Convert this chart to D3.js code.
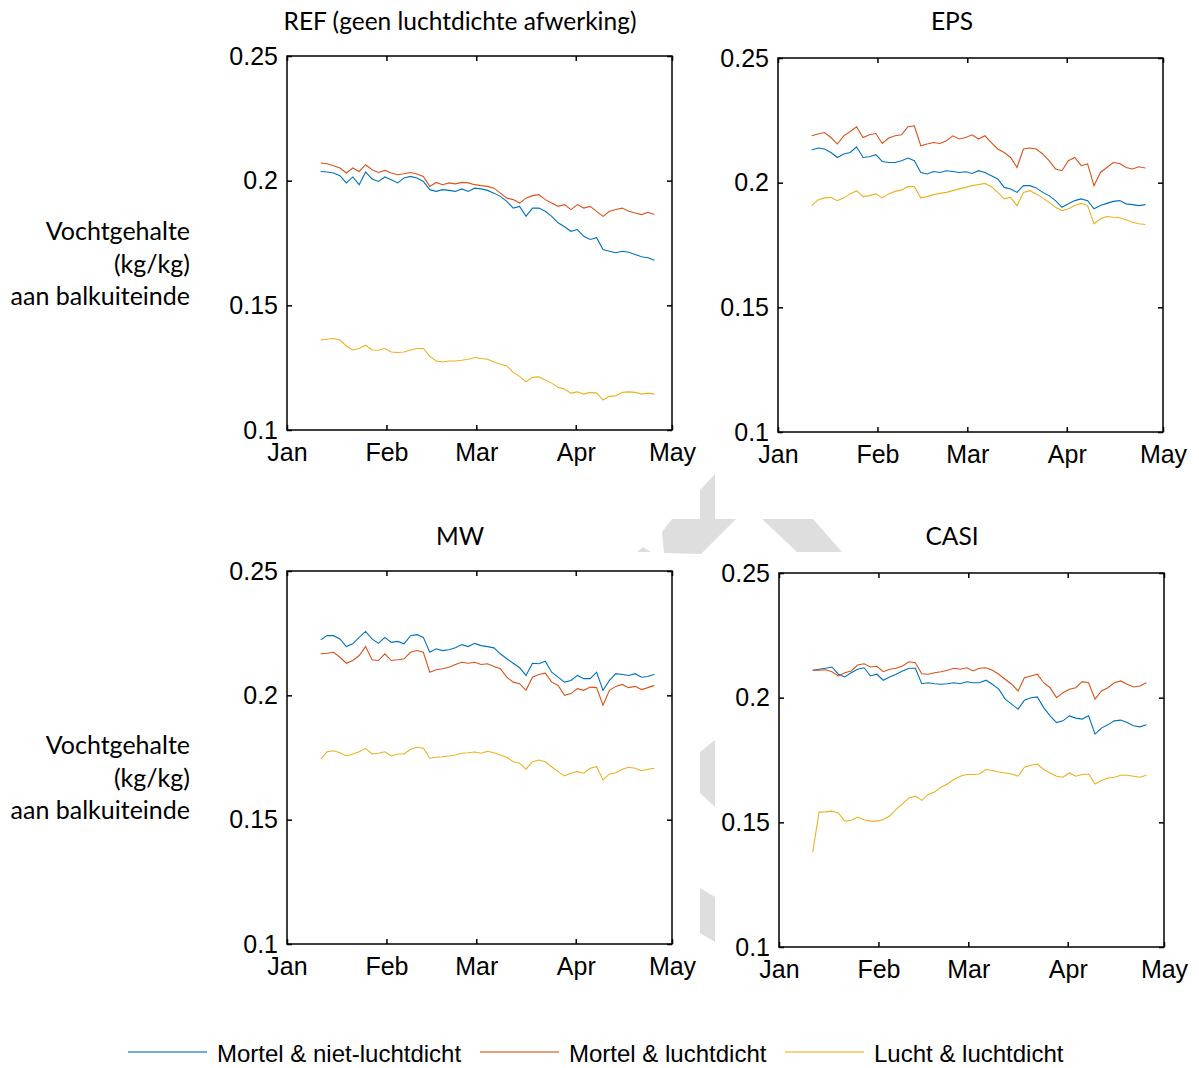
<!DOCTYPE html>
<html>
<head>
<meta charset="utf-8">
<script src="https://cdn.jsdelivr.net/npm/d3@7"></script>
<style>
  body { margin: 0; background: #fff; }
  svg { display: block; }
</style>
</head>
<body>
<div id="chart"></div>
<script>
// Series sampled every 2 days, starting 10.5 days after Jan 1 (2015)
const dayStart = 10.5, dayStep = 2;

const seriesNames = ["Mortel & niet-luchtdicht", "Mortel & luchtdicht", "Lucht & luchtdicht"];
const seriesColors = ["#0072BD", "#D95319", "#EDB120"];
const monthTicks = ["Jan", "Feb", "Mar", "Apr", "May"];
const yTicks = [0.1, 0.15, 0.2, 0.25];
const yLabelLines = ["Vochtgehalte", "(kg/kg)", "aan balkuiteinde"];

// REF
const refBlue = [.2037,.2035,.2031,.2020,.1991,.2015,.1984,.2035,.2007,.1997,.2015,.2004,.1991,.2011,.2017,.2011,.1997,.1964,.1957,.1964,.1961,.1957,.1967,.1957,.1970,.1967,.1961,.1950,.1937,.1917,.1890,.1897,.1857,.1890,.1890,.1877,.1857,.1831,.1815,.1797,.1804,.1777,.1764,.1771,.1724,.1717,.1711,.1717,.1713,.1704,.1695,.1691,.1681];
const refRed = [.2071,.2068,.2060,.2051,.2031,.2051,.2037,.2064,.2044,.2033,.2041,.2031,.2024,.2028,.2033,.2027,.2017,.1977,.1993,.1984,.1991,.1987,.1993,.1991,.1984,.1980,.1977,.1970,.1950,.1930,.1924,.1910,.1930,.1940,.1944,.1924,.1910,.1897,.1904,.1884,.1904,.1890,.1897,.1877,.1857,.1877,.1884,.1890,.1877,.1870,.1864,.1873,.1864];
const refYellow = [.1361,.1364,.1367,.1361,.1337,.1321,.1327,.1340,.1321,.1320,.1327,.1313,.1311,.1313,.1321,.1327,.1327,.1295,.1277,.1273,.1277,.1277,.1280,.1284,.1291,.1287,.1284,.1273,.1264,.1257,.1231,.1215,.1193,.1211,.1213,.1201,.1188,.1171,.1164,.1148,.1153,.1144,.1151,.1148,.1120,.1135,.1137,.1151,.1153,.1151,.1144,.1148,.1144];

// EPS
const epsBlue = [.2131,.2139,.2135,.2121,.2101,.2115,.2121,.2144,.2101,.2104,.2112,.2085,.2081,.2081,.2088,.2099,.2088,.2041,.2035,.2045,.2041,.2048,.2045,.2041,.2044,.2037,.2048,.2041,.2028,.2015,.1981,.1975,.1961,.1988,.1988,.1979,.1961,.1948,.1928,.1901,.1915,.1928,.1935,.1928,.1895,.1908,.1917,.1925,.1928,.1915,.1912,.1908,.1912];
const epsRed = [.2188,.2195,.2201,.2181,.2155,.2188,.2205,.2224,.2181,.2192,.2197,.2157,.2179,.2188,.2192,.2224,.2228,.2148,.2155,.2161,.2157,.2168,.2188,.2175,.2181,.2192,.2175,.2188,.2161,.2135,.2121,.2101,.2061,.2135,.2139,.2135,.2115,.2088,.2055,.2048,.2088,.2101,.2068,.2075,.1988,.2041,.2061,.2081,.2077,.2061,.2055,.2064,.2059];
const epsYellow = [.1908,.1931,.1939,.1941,.1928,.1939,.1955,.1968,.1944,.1948,.1955,.1939,.1955,.1965,.1971,.1984,.1984,.1939,.1944,.1952,.1957,.1961,.1968,.1975,.1981,.1988,.1992,.1997,.1984,.1961,.1935,.1941,.1908,.1961,.1968,.1955,.1939,.1921,.1901,.1888,.1895,.1908,.1917,.1908,.1835,.1855,.1864,.1861,.1859,.1851,.1841,.1835,.1832];

// MW
const mwBlue = [.2223,.2240,.2240,.2227,.2196,.2207,.2233,.2257,.2227,.2209,.2233,.2213,.2217,.2207,.2240,.2244,.2233,.2173,.2187,.2180,.2183,.2191,.2204,.2196,.2209,.2200,.2196,.2191,.2167,.2147,.2129,.2111,.2080,.2129,.2127,.2137,.2093,.2073,.2053,.2060,.2080,.2067,.2067,.2093,.2020,.2060,.2087,.2084,.2080,.2087,.2073,.2076,.2085];
const mwRed = [.2167,.2169,.2173,.2153,.2129,.2140,.2160,.2196,.2143,.2140,.2167,.2140,.2143,.2147,.2173,.2180,.2173,.2093,.2103,.2107,.2113,.2124,.2133,.2129,.2133,.2124,.2127,.2116,.2107,.2073,.2053,.2047,.2020,.2073,.2084,.2089,.2053,.2040,.2000,.2007,.2027,.2020,.2033,.2031,.1960,.2020,.2036,.2044,.2031,.2036,.2023,.2031,.2040];
const mwYellow = [.1743,.1773,.1777,.1769,.1756,.1764,.1773,.1787,.1764,.1767,.1773,.1756,.1764,.1764,.1783,.1791,.1787,.1747,.1751,.1753,.1756,.1760,.1767,.1769,.1772,.1767,.1775,.1769,.1760,.1751,.1733,.1727,.1703,.1733,.1740,.1733,.1713,.1693,.1676,.1687,.1693,.1687,.1707,.1713,.1660,.1684,.1689,.1703,.1711,.1707,.1697,.1703,.1707];

// CASI
const casiBlue = [.2110,.2114,.2118,.2123,.2094,.2083,.2100,.2114,.2120,.2087,.2094,.2070,.2083,.2094,.2107,.2118,.2118,.2056,.2060,.2056,.2054,.2056,.2060,.2056,.2064,.2060,.2060,.2070,.2054,.2034,.1994,.1974,.1954,.1990,.2000,.2003,.1960,.1927,.1900,.1907,.1927,.1918,.1914,.1927,.1854,.1878,.1891,.1907,.1910,.1900,.1887,.1883,.1891];
const casiRed = [.2110,.2110,.2112,.2104,.2087,.2100,.2107,.2131,.2136,.2123,.2126,.2104,.2114,.2118,.2127,.2144,.2140,.2096,.2094,.2100,.2104,.2110,.2118,.2114,.2120,.2107,.2118,.2120,.2110,.2094,.2074,.2054,.2027,.2080,.2087,.2094,.2060,.2040,.2000,.2020,.2034,.2040,.2064,.2060,.1994,.2027,.2040,.2060,.2067,.2054,.2043,.2047,.2060];
const casiYellow = [.1380,.1541,.1542,.1545,.1538,.1505,.1508,.1521,.1510,.1505,.1505,.1510,.1525,.1552,.1574,.1598,.1605,.1588,.1612,.1622,.1641,.1654,.1672,.1685,.1692,.1692,.1694,.1712,.1708,.1702,.1698,.1694,.1685,.1721,.1729,.1734,.1712,.1698,.1685,.1681,.1698,.1685,.1692,.1694,.1654,.1668,.1678,.1681,.1689,.1689,.1685,.1681,.1689];

// Pixel frames of the four axes boxes
const panels = [
  { title: "REF (geen luchtdichte afwerking)", x0: 287, y0: 56, x1: 672, y1: 430, tx: 460, ty: 30, data: [refBlue, refRed, refYellow] },
  { title: "EPS", x0: 778, y0: 58, x1: 1163, y1: 432, tx: 952, ty: 30, data: [epsBlue, epsRed, epsYellow] },
  { title: "MW", x0: 287, y0: 571, x1: 672, y1: 944, tx: 460, ty: 545, data: [mwBlue, mwRed, mwYellow] },
  { title: "CASI", x0: 779, y0: 573, x1: 1164, y1: 947, tx: 952, ty: 545, data: [casiBlue, casiRed, casiYellow] }
];

const width = 1199, height = 1068;
const tickFont = "'Liberation Sans', Arial, sans-serif";
const labelFont = "Lato, 'Open Sans', sans-serif";

const svg = d3.select("#chart").append("svg")
  .attr("width", width)
  .attr("height", height)
  .style("background", "#fff");

// faint watermark shapes behind the plots
const wm = svg.append("g").attr("fill", "#dedede");
[
  [[700,490],[715,474],[715,519],[736,519],[701,554],[664,553],[662,532],[672,519],[700,519]],
  [[762,519],[813,519],[842,552],[797,552]],
  [[637,552],[643,547],[651,552]],
  [[700,752],[715,740],[715,807],[700,793]],
  [[700,888],[715,897],[715,942],[700,933]]
].forEach(p => wm.append("path").attr("d", "M" + p.join("L") + "Z"));

const t0 = new Date(2015, 0, 1), t1 = new Date(2015, 4, 1);
const dayToDate = d => new Date(t0.getTime() + d * 864e5);

panels.forEach(p => {
  const x = d3.scaleTime().domain([t0, t1]).range([p.x0, p.x1]);
  const y = d3.scaleLinear().domain([0.1, 0.25]).range([p.y1, p.y0]);
  const monthDates = monthTicks.map((m, i) => new Date(2015, i, 1));

  const g = svg.append("g");

  g.append("rect")
    .attr("x", p.x0).attr("y", p.y0)
    .attr("width", p.x1 - p.x0).attr("height", p.y1 - p.y0)
    .attr("fill", "#fff");

  // series
  const line = d3.line()
    .x((v, i) => x(dayToDate(dayStart + i * dayStep)))
    .y(v => y(v));

  p.data.forEach((vals, k) => {
    g.append("path")
      .datum(vals)
      .attr("fill", "none")
      .attr("stroke", seriesColors[k])
      .attr("stroke-width", 1.1)
      .attr("stroke-linejoin", "miter")
      .attr("d", line);
  });

  // axes, ticks inside
  const fmtY = d => String(d);
  const left = g.append("g").attr("transform", `translate(${p.x0},0)`)
    .call(d3.axisLeft(y).tickValues(yTicks).tickFormat(fmtY).tickSize(-5).tickPadding(9));
  g.append("g").attr("transform", `translate(${p.x1},0)`)
    .call(d3.axisRight(y).tickValues(yTicks).tickFormat("").tickSize(-5));
  const bottom = g.append("g").attr("transform", `translate(0,${p.y1})`)
    .call(d3.axisBottom(x).tickValues(monthDates).tickFormat((d, i) => monthTicks[i]).tickSize(-5).tickPadding(13));
  g.append("g").attr("transform", `translate(0,${p.y0})`)
    .call(d3.axisTop(x).tickValues(monthDates).tickFormat("").tickSize(-5));

  g.selectAll(".domain").remove();
  g.selectAll(".tick line").attr("stroke", "#000").attr("stroke-width", 1.5);
  [left, bottom].forEach(a => a.selectAll("text")
    .style("font-family", tickFont)
    .style("font-size", "25px")
    .attr("fill", "#000"));
  bottom.selectAll("text").attr("dy", "0.71em");

  g.append("rect")
    .attr("x", p.x0).attr("y", p.y0)
    .attr("width", p.x1 - p.x0).attr("height", p.y1 - p.y0)
    .attr("fill", "none")
    .attr("stroke", "#000")
    .attr("stroke-width", 1.5);

  g.append("text")
    .attr("x", p.tx).attr("y", p.ty)
    .attr("text-anchor", "middle")
    .style("font-family", labelFont)
    .style("font-size", "24.5px")
    .text(p.title);
});

// y labels for the two rows
[240, 754].forEach(base => {
  svg.append("text")
    .attr("text-anchor", "end")
    .style("font-family", labelFont)
    .style("font-size", "25px")
    .selectAll("tspan")
    .data(yLabelLines)
    .join("tspan")
    .attr("x", 190)
    .attr("y", (d, i) => base + i * 32.5)
    .text(d => d);
});

// legend
const legendX = [128, 480, 785];
const legend = svg.append("g").attr("transform", "translate(0,1053)");
seriesNames.forEach((name, i) => {
  legend.append("line")
    .attr("x1", legendX[i]).attr("x2", legendX[i] + 79)
    .attr("y1", -1).attr("y2", -1)
    .attr("stroke", seriesColors[i])
    .attr("stroke-opacity", 0.75)
    .attr("stroke-width", 1.5);
  legend.append("text")
    .attr("x", legendX[i] + 89)
    .attr("y", 9)
    .style("font-family", tickFont)
    .style("font-size", "24px")
    .text(name);
});
</script>
</body>
</html>
